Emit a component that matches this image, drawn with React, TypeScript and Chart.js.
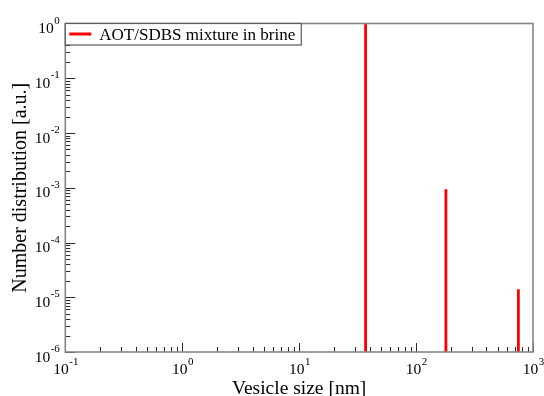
import React, { useEffect, useRef } from "react";
import { Chart, registerables } from "chart.js";

Chart.register(...registerables);

// ---- data ----
const seriesLabel = "AOT/SDBS mixture in brine";
const vesicleSizes = [37, 180, 750]; // nm
const numberDistribution = [1, 9.4e-4, 1.4e-5]; // a.u.
const xRange = [0.1, 1000];
const yRange = [1e-6, 1];
const xTickExponents = ["-1", "0", "1", "2", "3"];
const yTickExponents = ["0", "-1", "-2", "-3", "-4", "-5", "-6"];
const xTitle = "Vesicle size [nm]";
const yTitle = "Number distribution [a.u.]";

const SERIF = '"Liberation Serif", "DejaVu Serif", serif';

function drawPow(ctx: CanvasRenderingContext2D, exp: string, x: number, baseline: number, align: "center" | "right") {
  ctx.font = `15.5px ${SERIF}`;
  const w10 = ctx.measureText("10").width;
  ctx.font = `11px ${SERIF}`;
  const wExp = ctx.measureText(exp).width;
  const gap = 0.5;
  const total = w10 + gap + wExp;
  const start = align === "center" ? x - total / 2 : x - total;
  ctx.textAlign = "left";
  ctx.textBaseline = "alphabetic";
  ctx.font = `15.5px ${SERIF}`;
  ctx.fillText("10", start, baseline);
  ctx.font = `11px ${SERIF}`;
  ctx.fillText(exp, start + w10 + gap, baseline - 9.5);
}

const decorPlugin = {
  id: "decor",
  afterDatasetsDraw(chart: any) {
    const { ctx, chartArea: a, scales } = chart;
    const xs = scales.x;
    const ys = scales.y;
    ctx.save();

    // minor / major ticks
    ctx.strokeStyle = "#2a2a2a";
    ctx.lineWidth = 1;
    ctx.beginPath();
    const xMinE = Math.round(Math.log10(xRange[0]));
    const xMaxE = Math.round(Math.log10(xRange[1]));
    for (let e = xMinE; e <= xMaxE; e++) {
      for (let m = 1; m < 10; m++) {
        const v = m * Math.pow(10, e);
        if (v > xRange[1] * 1.0001) break;
        const px = Math.round(xs.getPixelForValue(v)) + 0.5;
        const len = m === 1 ? 9 : 5;
        ctx.moveTo(px, a.bottom);
        ctx.lineTo(px, a.bottom - len);
      }
    }
    const yMinE = Math.round(Math.log10(yRange[0]));
    const yMaxE = Math.round(Math.log10(yRange[1]));
    for (let e = yMinE; e <= yMaxE; e++) {
      for (let m = 1; m < 10; m++) {
        const v = m * Math.pow(10, e);
        if (v > yRange[1] * 1.0001) break;
        const py = Math.round(ys.getPixelForValue(v)) + 0.5;
        const len = m === 1 ? 10 : 5;
        ctx.moveTo(a.left, py);
        ctx.lineTo(a.left + len, py);
      }
    }
    ctx.stroke();

    // frame
    ctx.strokeStyle = "#858585";
    ctx.lineWidth = 1.6;
    ctx.strokeRect(a.left, a.top, a.right - a.left, a.bottom - a.top);

    // tick labels
    ctx.fillStyle = "#000";
    xTickExponents.forEach((exp) => {
      const v = Math.pow(10, Number(exp));
      const px = xs.getPixelForValue(v);
      drawPow(ctx, exp, px + 0.5, a.bottom + 22, "center");
    });
    yTickExponents.forEach((exp) => {
      const v = Math.pow(10, Number(exp));
      const py = ys.getPixelForValue(v);
      drawPow(ctx, exp, a.left - 5.5, py + 9.5, "right");
    });

    // axis titles
    ctx.font = `19.5px ${SERIF}`;
    ctx.textAlign = "center";
    ctx.textBaseline = "alphabetic";
    ctx.fillText(xTitle, (a.left + a.right) / 2, 393.5);
    ctx.save();
    ctx.font = `20px ${SERIF}`;
    ctx.translate(25.5, (a.top + a.bottom) / 2);
    ctx.rotate(-Math.PI / 2);
    ctx.fillText(yTitle, 0, 0);
    ctx.restore();

    // legend box
    const lx = a.left;
    const ly = a.top;
    ctx.font = `17px ${SERIF}`;
    const tw = ctx.measureText(seriesLabel).width;
    const bw = 34 + tw + 6;
    const bh = 21.5;
    ctx.fillStyle = "#fff";
    ctx.fillRect(lx, ly, bw, bh);
    ctx.strokeStyle = "#5a5a5a";
    ctx.lineWidth = 1.2;
    ctx.strokeRect(lx, ly, bw, bh);
    ctx.strokeStyle = "#ff0000";
    ctx.lineWidth = 3;
    ctx.beginPath();
    ctx.moveTo(lx + 4, ly + 10.5);
    ctx.lineTo(lx + 26, ly + 10.5);
    ctx.stroke();
    ctx.fillStyle = "#000";
    ctx.textAlign = "left";
    ctx.fillText(seriesLabel, lx + 34, ly + 16);

    ctx.restore();
  },
};

export default function App() {
  const canvasRef = useRef<HTMLCanvasElement | null>(null);

  useEffect(() => {
    if (!canvasRef.current) return;
    const points: { x: number; y: number | null }[] = [];
    vesicleSizes.forEach((s, i) => {
      points.push({ x: s, y: yRange[0] });
      points.push({ x: s, y: numberDistribution[i] });
      points.push({ x: s, y: null });
    });

    const chart = new Chart(canvasRef.current, {
      type: "scatter",
      data: {
        datasets: [
          {
            label: seriesLabel,
            data: points as any,
            showLine: true,
            spanGaps: false,
            borderColor: "#ff0000",
            backgroundColor: "#ff0000",
            borderWidth: 2.8,
            pointRadius: 0,
            pointHoverRadius: 0,
          },
        ],
      },
      options: {
        responsive: true,
        maintainAspectRatio: false,
        animation: false,
        events: [],
        layout: { padding: { top: 23.5, right: 11, left: 0, bottom: 0 } },
        plugins: {
          legend: { display: false },
          tooltip: { enabled: false },
        },
        scales: {
          x: {
            type: "logarithmic",
            min: xRange[0],
            max: xRange[1],
            grid: { display: false, drawTicks: false },
            border: { display: false },
            ticks: { display: false },
            afterFit: (scale: any) => {
              scale.height = 44;
            },
          },
          y: {
            type: "logarithmic",
            min: yRange[0],
            max: yRange[1],
            grid: { display: false, drawTicks: false },
            border: { display: false },
            ticks: { display: false },
            afterFit: (scale: any) => {
              scale.width = 65.3;
            },
          },
        },
      },
      plugins: [decorPlugin],
    });
    return () => chart.destroy();
  }, []);

  return (
    <div style={{ position: "fixed", left: 0, top: 0, width: 544, height: 396, background: "#fff" }}>
      <canvas ref={canvasRef} />
    </div>
  );
}
